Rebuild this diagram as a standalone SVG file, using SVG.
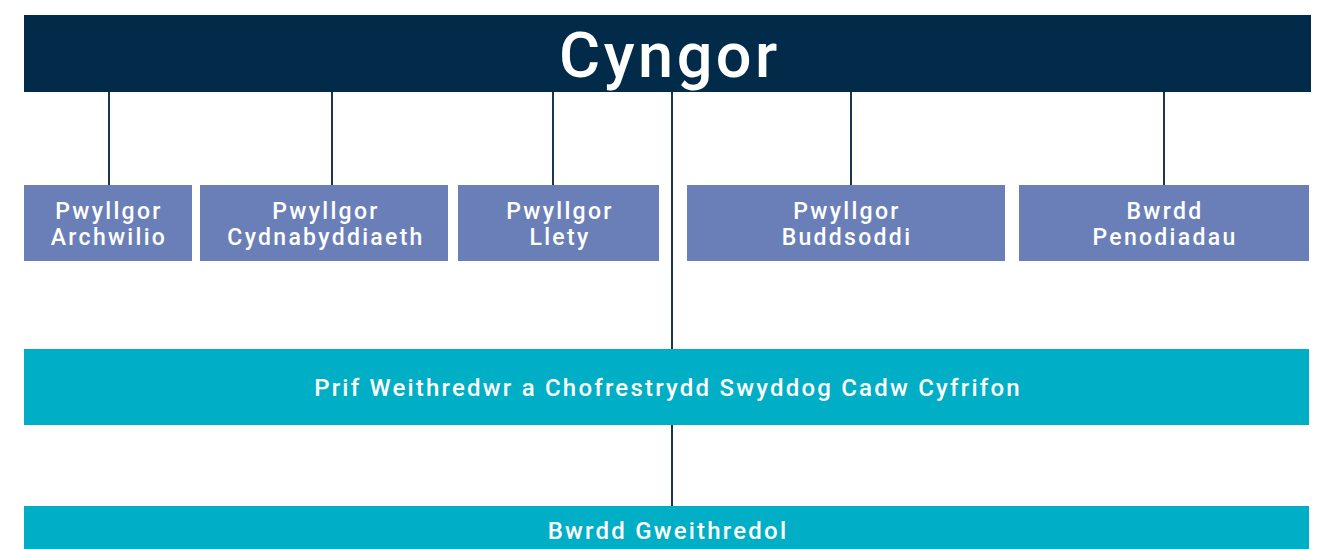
<svg xmlns="http://www.w3.org/2000/svg" width="1326" height="549" viewBox="0 0 1326 549">
<style>
.bg{fill:#ffffff}
.top{fill:#022b4a}
.com{fill:#6a7fb8}
.exec{fill:#00aec5}
.t{font-family:Roboto,"Liberation Sans",sans-serif;fill:#ffffff;text-anchor:middle;font-weight:500}
.big{font-size:63px;letter-spacing:3.5px}
.lab{font-size:23px;letter-spacing:2.3px}
.wide{font-size:24px;letter-spacing:2.2px}
.conn line{stroke:#1b3650;stroke-width:2}
</style>
<rect class="bg" x="0" y="0" width="1326" height="549"/>
<g id="connectors" class="conn">
<line x1="109" y1="91" x2="109" y2="185"/>
<line x1="332" y1="91" x2="332" y2="185"/>
<line x1="553" y1="91" x2="553" y2="185"/>
<line x1="851" y1="91" x2="851" y2="185"/>
<line x1="1164" y1="91" x2="1164" y2="185"/>
<line x1="672" y1="91" x2="672" y2="349"/>
<line x1="672" y1="425" x2="672" y2="506"/>
</g>
<g id="cyngor">
<rect class="top" x="24" y="15" width="1287" height="77"/>
<text class="t big" x="670" y="77">Cyngor</text>
</g>
<g id="archwilio">
<rect class="com" x="24" y="185" width="168" height="76"/>
<text class="t lab" x="109" y="219">Pwyllgor</text>
<text class="t lab" x="109" y="245">Archwilio</text>
</g>
<g id="cydnabyddiaeth">
<rect class="com" x="200" y="185" width="248" height="76"/>
<text class="t lab" x="326" y="219">Pwyllgor</text>
<text class="t lab" x="326" y="245">Cydnabyddiaeth</text>
</g>
<g id="llety">
<rect class="com" x="458" y="185" width="201" height="76"/>
<text class="t lab" x="560" y="219">Pwyllgor</text>
<text class="t lab" x="560" y="245">Llety</text>
</g>
<g id="buddsoddi">
<rect class="com" x="687" y="185" width="318" height="76"/>
<text class="t lab" x="847" y="219">Pwyllgor</text>
<text class="t lab" x="847" y="245">Buddsoddi</text>
</g>
<g id="penodiadau">
<rect class="com" x="1019" y="185" width="290" height="76"/>
<text class="t lab" x="1165" y="219">Bwrdd</text>
<text class="t lab" x="1165" y="245">Penodiadau</text>
</g>
<g id="prif">
<rect class="exec" x="24" y="349" width="1285" height="76"/>
<text class="t wide" x="668" y="396">Prif Weithredwr a Chofrestrydd Swyddog Cadw Cyfrifon</text>
</g>
<g id="bwrdd-gweithredol">
<rect class="exec" x="24" y="506" width="1285" height="50"/>
<text class="t wide" x="668" y="539">Bwrdd Gweithredol</text>
</g>
</svg>
